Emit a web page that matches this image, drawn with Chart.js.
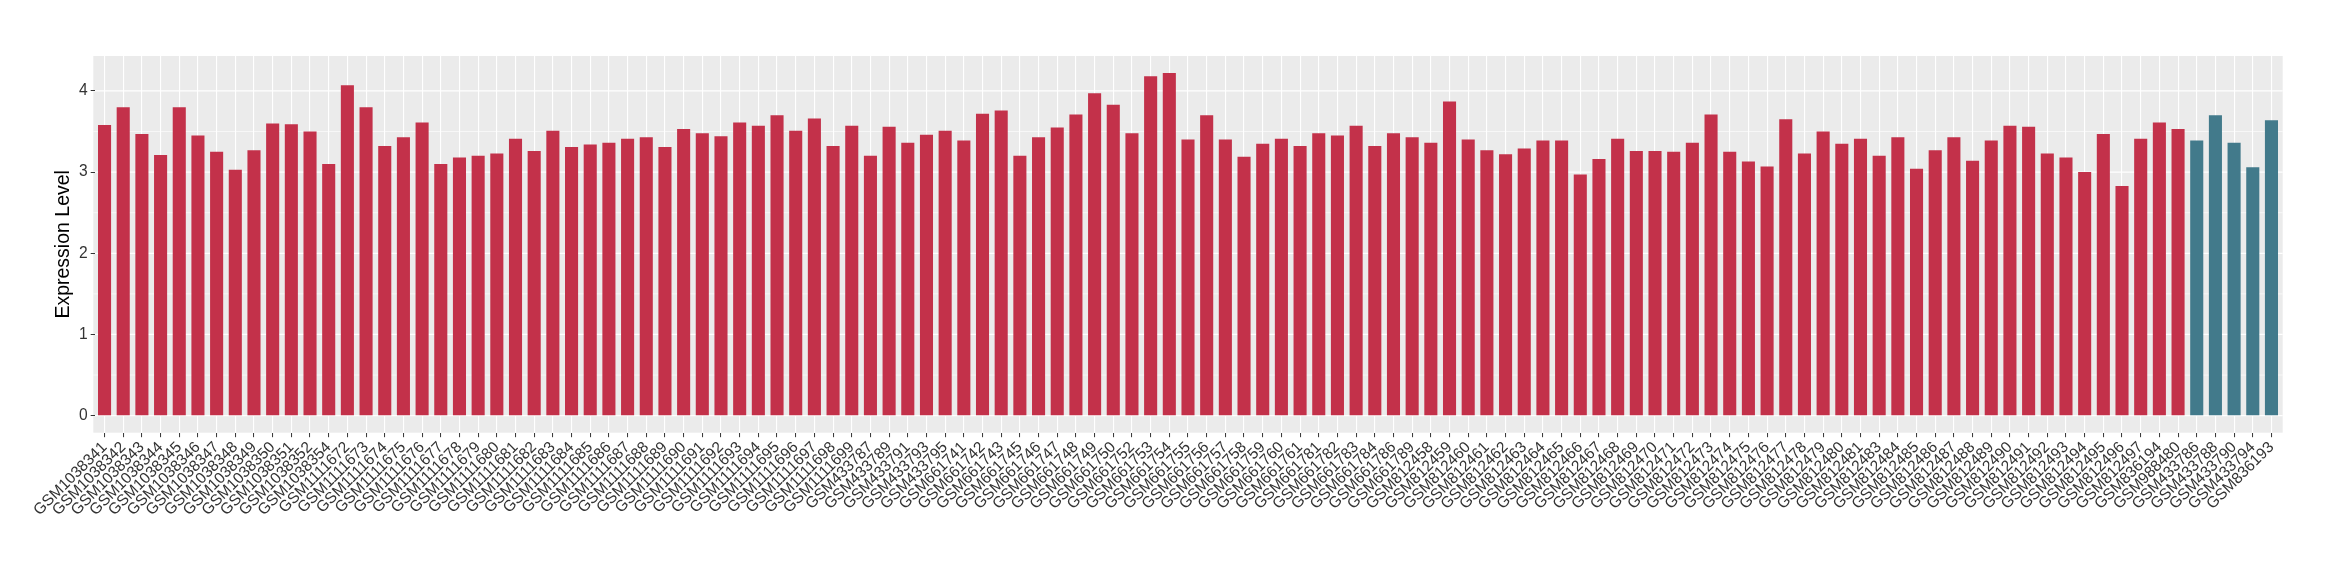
<!DOCTYPE html>
<html>
<head>
<meta charset="utf-8">
<script src="https://cdn.jsdelivr.net/npm/chart.js@4.4.0/dist/chart.umd.min.js"></script>
<style>
  body { margin: 0; background: #fff; }
  canvas { display: block; }
</style>
</head>
<body>
<canvas id="myChart" width="2340" height="580"></canvas>
<script>
// samples of the first group (red)
var redSamples = [
  'GSM1038341', 'GSM1038342', 'GSM1038343', 'GSM1038344', 'GSM1038345', 'GSM1038346',
  'GSM1038347', 'GSM1038348', 'GSM1038349', 'GSM1038350', 'GSM1038351', 'GSM1038352',
  'GSM1038354', 'GSM1111672', 'GSM1111673', 'GSM1111674', 'GSM1111675', 'GSM1111676',
  'GSM1111677', 'GSM1111678', 'GSM1111679', 'GSM1111680', 'GSM1111681', 'GSM1111682',
  'GSM1111683', 'GSM1111684', 'GSM1111685', 'GSM1111686', 'GSM1111687', 'GSM1111688',
  'GSM1111689', 'GSM1111690', 'GSM1111691', 'GSM1111692', 'GSM1111693', 'GSM1111694',
  'GSM1111695', 'GSM1111696', 'GSM1111697', 'GSM1111698', 'GSM1111699', 'GSM433787',
  'GSM433789', 'GSM433791', 'GSM433793', 'GSM433795', 'GSM661741', 'GSM661742',
  'GSM661743', 'GSM661745', 'GSM661746', 'GSM661747', 'GSM661748', 'GSM661749',
  'GSM661750', 'GSM661752', 'GSM661753', 'GSM661754', 'GSM661755', 'GSM661756',
  'GSM661757', 'GSM661758', 'GSM661759', 'GSM661760', 'GSM661761', 'GSM661781',
  'GSM661782', 'GSM661783', 'GSM661784', 'GSM661786', 'GSM661789', 'GSM812458',
  'GSM812459', 'GSM812460', 'GSM812461', 'GSM812462', 'GSM812463', 'GSM812464',
  'GSM812465', 'GSM812466', 'GSM812467', 'GSM812468', 'GSM812469', 'GSM812470',
  'GSM812471', 'GSM812472', 'GSM812473', 'GSM812474', 'GSM812475', 'GSM812476',
  'GSM812477', 'GSM812478', 'GSM812479', 'GSM812480', 'GSM812481', 'GSM812483',
  'GSM812484', 'GSM812485', 'GSM812486', 'GSM812487', 'GSM812488', 'GSM812489',
  'GSM812490', 'GSM812491', 'GSM812492', 'GSM812493', 'GSM812494', 'GSM812495',
  'GSM812496', 'GSM812497', 'GSM836194', 'GSM988480'
];
var redValues = [
  3.58, 3.80, 3.47, 3.21, 3.80, 3.45,
  3.25, 3.03, 3.27, 3.60, 3.59, 3.50,
  3.10, 4.07, 3.80, 3.32, 3.43, 3.61,
  3.10, 3.18, 3.20, 3.23, 3.41, 3.26,
  3.51, 3.31, 3.34, 3.36, 3.41, 3.43,
  3.31, 3.53, 3.48, 3.44, 3.61, 3.57,
  3.70, 3.51, 3.66, 3.32, 3.57, 3.20,
  3.56, 3.36, 3.46, 3.51, 3.39, 3.72,
  3.76, 3.20, 3.43, 3.55, 3.71, 3.97,
  3.83, 3.48, 4.18, 4.22, 3.40, 3.70,
  3.40, 3.19, 3.35, 3.41, 3.32, 3.48,
  3.45, 3.57, 3.32, 3.48, 3.43, 3.36,
  3.87, 3.40, 3.27, 3.22, 3.29, 3.39,
  3.39, 2.97, 3.16, 3.41, 3.26, 3.26,
  3.25, 3.36, 3.71, 3.25, 3.13, 3.07,
  3.65, 3.23, 3.50, 3.35, 3.41, 3.20,
  3.43, 3.04, 3.27, 3.43, 3.14, 3.39,
  3.57, 3.56, 3.23, 3.18, 3.00, 3.47,
  2.83, 3.41, 3.61, 3.53
];

// samples of the second group (teal)
var blueSamples = ['GSM433786', 'GSM433788', 'GSM433790', 'GSM433794', 'GSM836193'];
var blueValues = [3.39, 3.70, 3.36, 3.06, 3.64];

var yTicks = [0, 1, 2, 3, 4];
var yMinorGrid = [0.5, 1.5, 2.5, 3.5];
var yRange = [-0.21, 4.43];

var labels = redSamples.concat(blueSamples);
var values = redValues.concat(blueValues);
var colors = redSamples.map(function () { return '#C3314A'; })
  .concat(blueSamples.map(function () { return '#427A8B'; }));

var fontFamily = '"Liberation Sans", Arial, Helvetica, sans-serif';

// grey panel + horizontal grid, ggplot style
var panelBg = {
  id: 'panelBg',
  beforeDraw: function (chart) {
    var ctx = chart.ctx;
    var area = chart.chartArea;
    var y = chart.scales.y;
    var ext = (area.right - area.left) / labels.length * 0.1;
    ctx.save();
    ctx.fillStyle = '#EBEBEB';
    ctx.fillRect(area.left - ext, area.top, area.right - area.left + 2 * ext, area.bottom - area.top);
    ctx.strokeStyle = '#ffffff';
    ctx.lineWidth = 0.6;
    yMinorGrid.forEach(function (v) {
      var py = y.getPixelForValue(v);
      ctx.beginPath();
      ctx.moveTo(area.left - ext, py);
      ctx.lineTo(area.right + ext, py);
      ctx.stroke();
    });
    ctx.lineWidth = 1.2;
    yTicks.forEach(function (v) {
      var py = y.getPixelForValue(v);
      ctx.beginPath();
      ctx.moveTo(area.left - ext, py);
      ctx.lineTo(area.right + ext, py);
      ctx.stroke();
    });
    ctx.restore();
  }
};

var ctx = document.getElementById('myChart').getContext('2d');
var chart = new Chart(ctx, {
  type: 'bar',
  data: {
    labels: labels,
    datasets: [{
      label: 'Expression Level',
      data: values,
      backgroundColor: colors,
      borderWidth: 0,
      categoryPercentage: 1.0,
      barPercentage: 0.7
    }]
  },
  options: {
    responsive: false,
    animation: false,
    devicePixelRatio: 1,
    layout: { padding: { top: 56, right: 59.2, bottom: 0, left: 0 } },
    plugins: {
      legend: { display: false },
      tooltip: { enabled: false }
    },
    scales: {
      x: {
        type: 'category',
        offset: true,
        border: { display: false },
        grid: {
          offset: false,
          color: '#ffffff',
          lineWidth: 1.1,
          drawTicks: true,
          tickLength: 4.5,
          tickColor: '#333333',
          tickWidth: 1
        },
        ticks: {
          autoSkip: false,
          maxRotation: 45,
          minRotation: 45,
          padding: 1,
          color: '#333333',
          font: { family: fontFamily, size: 15.6 }
        },
        afterFit: function (scale) { scale.height = 147.3; }
      },
      y: {
        min: yRange[0],
        max: yRange[1],
        afterBuildTicks: function (scale) {
          scale.ticks = yTicks.map(function (v) { return { value: v }; });
        },
        border: { display: false },
        grid: {
          drawOnChartArea: false,
          drawTicks: true,
          tickLength: 4.5,
          tickColor: '#333333',
          tickWidth: 1
        },
        ticks: {
          padding: 3,
          color: '#333333',
          font: { family: fontFamily, size: 15.6 }
        },
        title: {
          display: true,
          text: 'Expression Level',
          color: '#000000',
          font: { family: fontFamily, size: 19.5 },
          padding: { top: 52, bottom: 0 }
        },
        afterFit: function (scale) { scale.width = 95.2; }
      }
    }
  },
  plugins: [panelBg]
});
</script>
</body>
</html>
